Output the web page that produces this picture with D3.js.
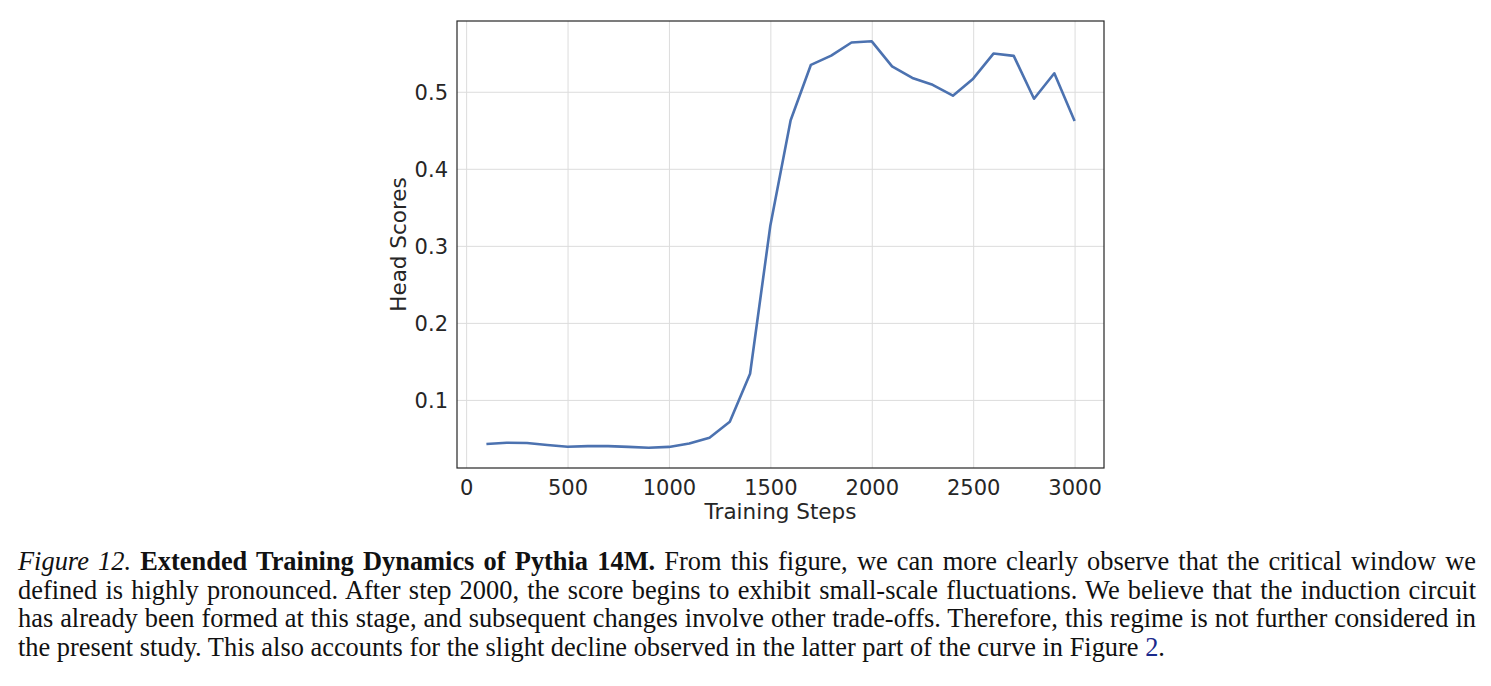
<!DOCTYPE html>
<html>
<head>
<meta charset="utf-8">
<script src="https://cdn.jsdelivr.net/npm/d3@7"></script>
<style>
  body { margin: 0; background: #fff; width: 1491px; height: 686px; overflow: hidden; position: relative; }
  #chart { position: absolute; left: 0; top: 0; }
  #caption {
    position: absolute; left: 18px; top: 547px; width: 1458px;
    font-family: "Liberation Serif", "Times New Roman", serif;
    font-size: 26.4px; line-height: 28.6px; color: #111;
  }
  #caption .ln { text-align: justify; text-align-last: justify; white-space: nowrap; }
  #caption .ln.last { text-align-last: left; }
  #caption .ref { color: #1a2a8c; }
</style>
</head>
<body>
<div id="chart"></div>
<div id="caption">
  <div class="ln"><i>Figure 12.</i> <b>Extended Training Dynamics of Pythia 14M.</b> From this figure, we can more clearly observe that the critical window we</div>
  <div class="ln">defined is highly pronounced. After step 2000, the score begins to exhibit small-scale fluctuations. We believe that the induction circuit</div>
  <div class="ln">has already been formed at this stage, and subsequent changes involve other trade-offs. Therefore, this regime is not further considered in</div>
  <div class="ln last">the present study. This also accounts for the slight decline observed in the latter part of the curve in Figure <span class="ref">2</span>.</div>
</div>
<script>
const steps = [100, 200, 300, 400, 500, 600, 700, 800, 900, 1000,
  1100, 1200, 1300, 1400, 1500, 1600, 1700, 1800, 1900, 2000,
  2100, 2200, 2300, 2400, 2500, 2600, 2700, 2800, 2900, 3000];
const scores = [0.0427, 0.0444, 0.0440, 0.0414, 0.0392, 0.0400, 0.0400, 0.0390, 0.0380, 0.0390,
  0.0435, 0.0510, 0.0716, 0.1340, 0.3265, 0.4630, 0.5350, 0.5470, 0.5640, 0.5655,
  0.5330, 0.5180, 0.5090, 0.4950, 0.5170, 0.5496, 0.5466, 0.4910, 0.5240, 0.4620];
const xTicks = [0, 500, 1000, 1500, 2000, 2500, 3000];
const yTicks = [0.1, 0.2, 0.3, 0.4, 0.5];

const width = 1491;
const height = 530;
const area = { left: 457, right: 1104, top: 21, bottom: 468 };

const data = steps.map((s, i) => ({ step: s, score: scores[i] }));

// matplotlib style 5% margins
function padded(ext) {
  const pad = (ext[1] - ext[0]) * 0.05;
  return [ext[0] - pad, ext[1] + pad];
}

const svg = d3.select("#chart").append("svg")
  .attr("width", width)
  .attr("height", height)
  .style("font-family", "'DejaVu Sans', sans-serif");

const x = d3.scaleLinear().domain(padded(d3.extent(steps))).range([area.left, area.right]);
const y = d3.scaleLinear().domain(padded(d3.extent(scores))).range([area.bottom, area.top]);

// gridlines
svg.append("g")
  .attr("transform", `translate(0, ${area.bottom})`)
  .call(d3.axisBottom(x).tickValues(xTicks).tickFormat("").tickSize(-(area.bottom - area.top)))
  .call(g => g.select(".domain").remove())
  .call(g => g.selectAll("line").attr("stroke", "#dcdcdc").attr("stroke-width", 1));

svg.append("g")
  .attr("transform", `translate(${area.left}, 0)`)
  .call(d3.axisLeft(y).tickValues(yTicks).tickFormat("").tickSize(-(area.right - area.left)))
  .call(g => g.select(".domain").remove())
  .call(g => g.selectAll("line").attr("stroke", "#dcdcdc").attr("stroke-width", 1));

// tick labels
svg.append("g")
  .attr("transform", `translate(0, ${area.bottom})`)
  .call(d3.axisBottom(x).tickValues(xTicks).tickSize(0).tickPadding(0).tickFormat(d3.format("d")))
  .call(g => g.select(".domain").remove())
  .call(g => g.selectAll("text")
    .attr("y", 27).attr("dy", null)
    .attr("font-size", 21).attr("fill", "#262626")
    .attr("font-family", "'DejaVu Sans', sans-serif"));

svg.append("g")
  .attr("transform", `translate(${area.left}, 0)`)
  .call(d3.axisLeft(y).tickValues(yTicks).tickSize(0).tickFormat(d3.format(".1f")))
  .call(g => g.select(".domain").remove())
  .call(g => g.selectAll("text")
    .attr("x", -9).attr("dy", "0.36em")
    .attr("font-size", 21).attr("fill", "#262626")
    .attr("font-family", "'DejaVu Sans', sans-serif"));

// frame
svg.append("rect")
  .attr("x", area.left).attr("y", area.top)
  .attr("width", area.right - area.left).attr("height", area.bottom - area.top)
  .attr("fill", "none").attr("stroke", "#262626").attr("stroke-width", 1.2);

// line
svg.append("path")
  .datum(data)
  .attr("fill", "none")
  .attr("stroke", "#4c72b0")
  .attr("stroke-width", 2.6)
  .attr("stroke-linejoin", "round")
  .attr("d", d3.line().x(d => x(d.step)).y(d => y(d.score)));

// axis labels
svg.append("text")
  .attr("x", (area.left + area.right) / 2)
  .attr("y", 519)
  .attr("text-anchor", "middle")
  .attr("font-size", 21.5)
  .attr("fill", "#262626")
  .text("Training Steps");

svg.append("text")
  .attr("transform", `translate(406, ${(area.top + area.bottom) / 2}) rotate(-90)`)
  .attr("text-anchor", "middle")
  .attr("font-size", 21.5)
  .attr("fill", "#262626")
  .text("Head Scores");
</script>
</body>
</html>
